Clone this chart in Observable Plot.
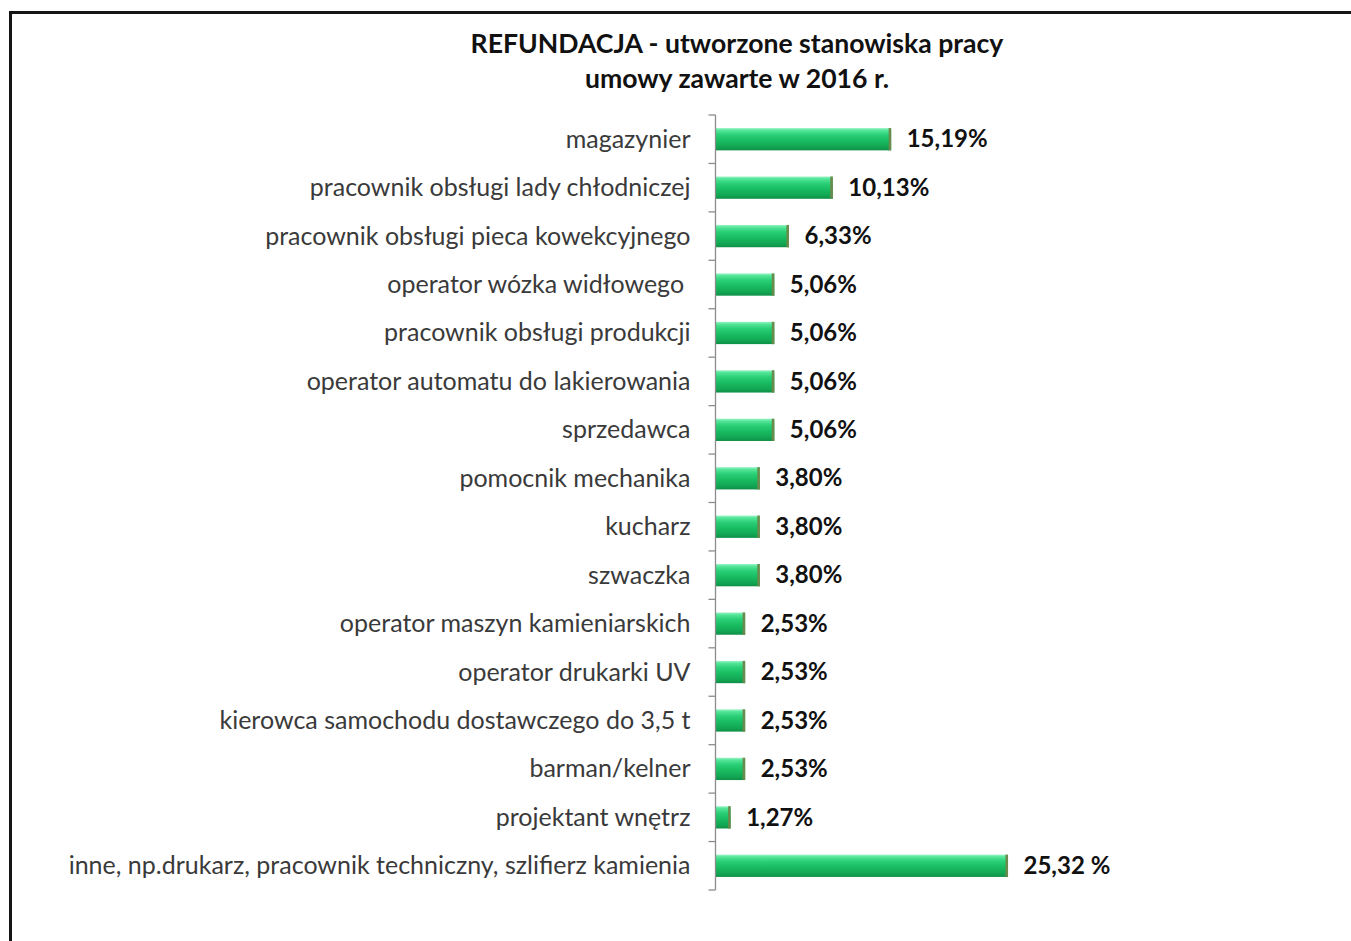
<!DOCTYPE html>
<html>
<head>
<meta charset="utf-8">
<script src="https://cdn.jsdelivr.net/npm/d3@7"></script>
<script src="https://cdn.jsdelivr.net/npm/@observablehq/plot@0.6"></script>
<style>
  html, body { margin: 0; padding: 0; background: #fff; }
  body { width: 1351px; height: 941px; position: relative; overflow: hidden; font-family: Lato, "Open Sans", sans-serif; }
  #frame { position: absolute; left: 9px; top: 11px; width: 1420px; height: 1000px; border: 3px solid #151515; box-sizing: border-box; pointer-events: none; }
  #title { height: 100px; position: relative; }
  #title div { position: absolute; left: 737px; transform: translateX(-50%); white-space: nowrap; font-weight: bold; font-size: 26.6px; color: #111; }
  #chart { position: relative; height: 841px; }
  #chart svg { display: block; }
</style>
</head>
<body>
<div id="frame"></div>
<div id="title">
  <div style="top:27px">REFUNDACJA - utworzone stanowiska pracy</div>
  <div style="top:62px">umowy zawarte w 2016 r.</div>
</div>
<div id="chart"></div>
<script>
const categories = [
  "magazynier",
  "pracownik obsługi lady chłodniczej",
  "pracownik obsługi pieca kowekcyjnego",
  "operator wózka widłowego\u00a0",
  "pracownik obsługi produkcji",
  "operator automatu do lakierowania",
  "sprzedawca",
  "pomocnik mechanika",
  "kucharz",
  "szwaczka",
  "operator maszyn kamieniarskich",
  "operator drukarki UV",
  "kierowca samochodu dostawczego do 3,5 t",
  "barman/kelner",
  "projektant wnętrz",
  "inne, np.drukarz, pracownik techniczny, szlifierz kamienia"
];
const values = [15.19, 10.13, 6.33, 5.06, 5.06, 5.06, 5.06, 3.80, 3.80, 3.80, 2.53, 2.53, 2.53, 2.53, 1.27, 25.32];
const valueLabels = ["15,19%", "10,13%", "6,33%", "5,06%", "5,06%", "5,06%", "5,06%", "3,80%", "3,80%", "3,80%", "2,53%", "2,53%", "2,53%", "2,53%", "1,27%", "25,32 %"];

const data = categories.map((c, i) => ({cat: c, v: values[i], label: valueLabels[i]}));

const defs = () => {
  const g = d3.create("svg:defs");
  const lg = g.append("linearGradient").attr("id", "barGrad").attr("x1", 0).attr("y1", 0).attr("x2", 0).attr("y2", 1);
  [[0, "#9af5c6"], [0.1, "#55e69a"], [0.3, "#2bd077"], [0.55, "#19bd62"], [0.85, "#12a553"], [1, "#0e8f46"]]
    .forEach(([o, c]) => lg.append("stop").attr("offset", o).attr("stop-color", c));
  const f = g.append("filter").attr("id", "shadow").attr("x", "-5%").attr("y", "-30%").attr("width", "115%").attr("height", "190%");
  f.append("feDropShadow").attr("dx", 1).attr("dy", 4).attr("stdDeviation", 2.2).attr("flood-color", "#000").attr("flood-opacity", 0.28);
  return g.node();
};

const plot = Plot.plot({
  width: 1351,
  height: 841,
  marginLeft: 716,
  marginRight: 289,
  marginTop: 15,
  marginBottom: 51,
  style: {fontFamily: "Lato, 'Open Sans', sans-serif", background: "transparent", overflow: "visible"},
  x: {domain: [0, 30], axis: null},
  y: {domain: categories, paddingInner: 0.54, paddingOuter: 0.27, round: false, label: null},
  marks: [
    defs,
    Plot.axisY({tickSize: 0, tickPadding: 26, fontSize: 25, fill: "#3a3a3a", label: null}),
    Plot.barX(data, {y: "cat", x: "v", fill: "url(#barGrad)", ariaLabel: "bars"}),
    Plot.barX(data, {y: "cat", x1: d => d.v - 0.22, x2: "v", fill: "#6b8a4c"}),
    Plot.text(data, {y: "cat", x: "v", text: "label", textAnchor: "start", dx: 15, fontSize: 24, fontWeight: "bold", fill: "#111"})
  ]
});

document.getElementById("chart").appendChild(plot);

d3.select(plot).selectAll("g[aria-label='bars'] rect").attr("filter", "url(#shadow)");

// vertical axis line with tick marks at category boundaries (Excel style)
const ys = plot.scale("y");
const xs = plot.scale("x");
const step = ys.step;
const axX = xs.apply(0) - 0.5;
const axTop = ys.apply(categories[0]) - (step - ys.bandwidth) / 2;
const axBottom = axTop + categories.length * step;
const ax = d3.select(plot).append("g").attr("stroke", "#8c8c8c").attr("stroke-width", 1.3);
ax.append("line").attr("x1", axX).attr("x2", axX).attr("y1", axTop).attr("y2", axBottom);
for (let i = 0; i <= categories.length; i++) {
  const y = axTop + i * step;
  ax.append("line").attr("x1", axX - 7).attr("x2", axX).attr("y1", y).attr("y2", y);
}
</script>
</body>
</html>
